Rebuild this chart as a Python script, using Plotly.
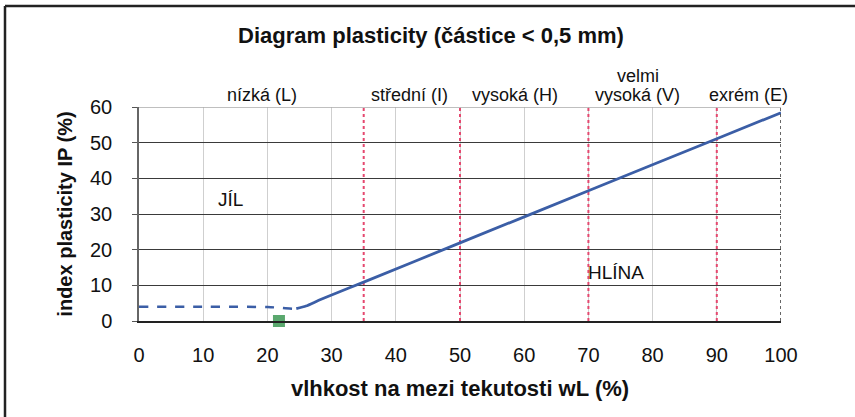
import plotly.graph_objects as go

# A-line (solid)
aline_x = [24.5, 26, 28, 30, 35, 50, 70, 90, 100]
aline_y = [3.5, 4.2, 5.8, 7.3, 10.9, 21.9, 36.5, 51.1, 58.4]
# dashed part at low wL
dash_x = [0, 10, 20, 22, 24, 25]
dash_y = [4.0, 4.0, 3.9, 3.7, 3.4, 3.5]
# sample point
pt_x = [21.8]
pt_y = [0]
# class boundaries
bounds = [35, 50, 70, 90]
# zone labels
zone_x = [19.2, 42.2, 58.6, 77.7, 94.9]
zone_txt = ["nízká (L)", "střední (I)", "vysoká (H)", "vysoká (V)", "exrém (E)"]
zone_top = ["", "", "", "velmi", ""]
x_ticks = [0, 10, 20, 30, 40, 50, 60, 70, 80, 90, 100]
y_ticks = [0, 10, 20, 30, 40, 50, 60]

BLUE = "#3b5ea6"
RED = "#e5486f"
FONT = "Liberation Sans, Arial, sans-serif"

fig = go.Figure()

for b in bounds:
    fig.add_trace(go.Scatter(x=[b, b], y=[0, 60], mode="lines",
                             line=dict(color=RED, width=2, dash="dot"),
                             hoverinfo="skip", showlegend=False))

fig.add_trace(go.Scatter(x=dash_x, y=dash_y, mode="lines",
                         line=dict(color=BLUE, width=2.5, dash="dash", shape="spline"),
                         showlegend=False))
fig.add_trace(go.Scatter(x=aline_x, y=aline_y, mode="lines",
                         line=dict(color=BLUE, width=2.8, shape="spline", smoothing=0.6),
                         showlegend=False))
fig.add_trace(go.Scatter(x=pt_x, y=pt_y, mode="markers",
                         marker=dict(symbol="square", size=12, color="#5aa86e",
                                     line=dict(width=0)),
                         cliponaxis=False, showlegend=False))

fig.update_xaxes(range=[0, 100], tickvals=x_ticks, showgrid=True,
                 gridcolor="#cfcfcf", gridwidth=1,
                 zeroline=False, showline=True, linecolor="#222", linewidth=1.5,
                 mirror=False, ticks="", ticklabelstandoff=15,
                 tickfont=dict(size=20, color="#111", family=FONT),
                 title=dict(text="<b>vlhkost na mezi tekutosti wL (%)</b>",
                            font=dict(size=22, color="#111", family=FONT), standoff=16))
fig.update_yaxes(range=[0, 60], tickvals=y_ticks, showgrid=True,
                 gridcolor="#3a3a3a", gridwidth=1,
                 zeroline=False, showline=True, linecolor="#666", linewidth=1.5,
                 ticks="outside", ticklen=5, tickcolor="#555", ticklabelstandoff=16,
                 tickfont=dict(size=20, color="#111", family=FONT),
                 title=dict(text="<b>index plasticity IP (%)</b>",
                            font=dict(size=20, color="#111", family=FONT), standoff=12))

# right and top border of plot area
fig.add_shape(type="line", xref="x", yref="y", x0=100, x1=100, y0=0, y1=60,
              line=dict(color="#333", width=1.5, dash="dot"))
fig.add_shape(type="line", xref="x", yref="y", x0=0, x1=100, y0=60, y1=60,
              line=dict(color="#aaa", width=1.5))
# outer frame (left and top visible)
fig.add_shape(type="line", xref="paper", yref="paper", x0=-134/642, x1=-134/642,
              y0=-2, y1=(321 - 6) / 214, line=dict(color="#222", width=2.5))
fig.add_shape(type="line", xref="paper", yref="paper", x0=-134/642, x1=2,
              y0=(321 - 6) / 214, y1=(321 - 6) / 214, line=dict(color="#222", width=2.5))

for zx, zt, ztop in zip(zone_x, zone_txt, zone_top):
    fig.add_annotation(x=zx, y=60, xref="x", yref="y", text=zt, showarrow=False,
                       yanchor="bottom", yshift=0,
                       font=dict(size=18, color="#111", family=FONT))
    if ztop:
        fig.add_annotation(x=zx, y=60, xref="x", yref="y", text=ztop, showarrow=False,
                           yanchor="bottom", yshift=19,
                           font=dict(size=18, color="#111", family=FONT))

fig.add_annotation(x=14.2, y=34, xref="x", yref="y", text="JÍL", showarrow=False,
                   font=dict(size=19, color="#111", family=FONT))
fig.add_annotation(x=74.3, y=13.7, xref="x", yref="y", text="HLÍNA", showarrow=False,
                   font=dict(size=19, color="#111", family=FONT))

fig.update_layout(
    width=855, height=417,
    margin=dict(l=139, r=74, t=107, b=96),
    paper_bgcolor="white", plot_bgcolor="white",
    title=dict(text="<b>Diagram plasticity (částice < 0,5 mm)</b>",
               x=431 / 855, xanchor="center", y=1 - 35 / 417, yanchor="middle",
               font=dict(size=22, color="#111", family=FONT)),
)

fig.write_html("out.html", config={"displayModeBar": False},
               post_script="document.body.style.margin='0';")
